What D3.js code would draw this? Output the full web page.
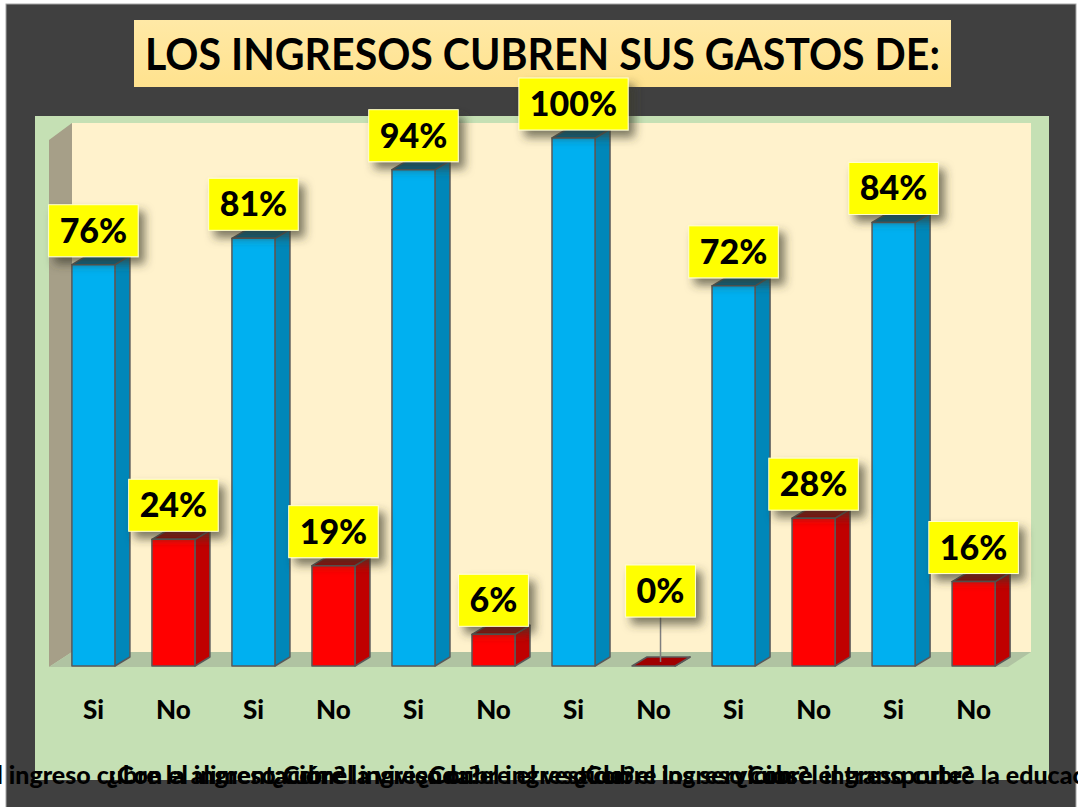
<!DOCTYPE html>
<html>
<head>
<meta charset="utf-8">
<script src="https://cdn.jsdelivr.net/npm/d3@7"></script>
<style>
  body { margin: 0; background: #ffffff; }
  svg { display: block; }
</style>
</head>
<body>
<script>
const width = 1078;
const height = 807;
const title = "LOS INGRESOS CUBREN SUS GASTOS DE:";
const groups = [
  "¿Con el ingreso cubre la alimentación?",
  "¿Con el ingreso cubre la vivienda?",
  "¿Con el ingreso cubre el vestido?",
  "¿Con el ingreso cubre los servicios?",
  "¿Con el ingreso cubre el transporte?",
  "¿Con el ingreso cubre la educación?"
];
const answers = ["Si", "No"];
const siValues = [76, 81, 94, 100, 72, 84];
const noValues = [24, 19, 6, 0, 28, 16];

const colors = {
  Si: { front: "#00B0F0", side: "#0087B9", top: "#00668E" },
  No: { front: "#FF0000", side: "#C00000", top: "#A00000" }
};
const depth = { dx: 15, dy: 9 };

// flatten into one bar per answer, in the order they are drawn
const data = [];
groups.forEach((g, gi) => {
  data.push({ key: `${gi}-Si`, group: gi, answer: "Si", value: siValues[gi] });
  data.push({ key: `${gi}-No`, group: gi, answer: "No", value: noValues[gi] });
});

const svg = d3.select("body").append("svg")
  .attr("width", width)
  .attr("height", height);

const defs = svg.append("defs");
const shadow = defs.append("filter")
  .attr("id", "boxShadow")
  .attr("x", "-30%").attr("y", "-30%")
  .attr("width", "180%").attr("height", "180%");
shadow.append("feDropShadow")
  .attr("dx", 6).attr("dy", 7)
  .attr("stdDeviation", 5)
  .attr("flood-color", "#3a3a2a")
  .attr("flood-opacity", 0.65);

const titleGrad = defs.append("linearGradient")
  .attr("id", "titleGrad")
  .attr("x1", 0).attr("y1", 0).attr("x2", 0).attr("y2", 1);
titleGrad.append("stop").attr("offset", "0%").attr("stop-color", "#FFE9A6");
titleGrad.append("stop").attr("offset", "100%").attr("stop-color", "#FFE28E");

// frame
svg.append("rect")
  .attr("x", 6).attr("y", 4)
  .attr("width", 1070).attr("height", 820)
  .attr("style", "fill: #404040; stroke: #A6A6A6; stroke-width: 1px;");

// title
svg.append("rect")
  .attr("x", 134).attr("y", 20)
  .attr("width", 817).attr("height", 67)
  .attr("style", "fill: url(#titleGrad);");
svg.append("text")
  .text(title)
  .attr("x", 145).attr("y", 70)
  .attr("textLength", 795)
  .attr("lengthAdjust", "spacingAndGlyphs")
  .attr("style", "font-family: Lato, 'Open Sans', sans-serif; font-weight: bold; font-size: 43px; fill: #000;");

// plot area
svg.append("rect")
  .attr("x", 35).attr("y", 116)
  .attr("width", 1014).attr("height", 664)
  .attr("style", "fill: #C5E0B4;");

const x = d3.scaleBand()
  .domain(data.map((d) => d.key))
  .range([53.5, 1013.5])
  .paddingInner(0.4625)
  .paddingOuter(0.23);

const y = d3.scaleLinear()
  .domain([0, 100])
  .range([666, 138]);

const wallLeft = 72;
const wallRight = 1031;
const wallTop = 123;
const floorBack = y(0) - 14;
const floorFront = y(0) + 1;

// back wall, side wall and floor
svg.append("rect")
  .attr("x", wallLeft).attr("y", wallTop)
  .attr("width", wallRight - wallLeft).attr("height", floorBack - wallTop)
  .attr("style", "fill: #FFF2CC;");
svg.append("polygon")
  .attr("points", [[wallLeft - 23, wallTop + 17], [wallLeft, wallTop], [wallLeft, floorBack], [wallLeft - 23, floorFront]].join(" "))
  .attr("style", "fill: #A69F88;");
svg.append("polygon")
  .attr("points", [[wallLeft - 23, floorFront], [wallLeft, floorBack], [wallRight, floorBack], [wallRight - 23, floorFront]].join(" "))
  .attr("style", "fill: #B0C3A2;");

// bars
const bw = x.bandwidth();
const bars = svg.selectAll(".bar")
  .data(data)
  .enter().append("g")
  .attr("class", "bar");

const barStroke = "stroke: #595959; stroke-width: 1.5px; stroke-linejoin: round;";

bars.append("polygon")
  .attr("points", (d) => {
    const x0 = x(d.key) + bw, yt = y(d.value), yb = y(0);
    return [[x0, yt], [x0 + depth.dx, yt - depth.dy], [x0 + depth.dx, yb - depth.dy], [x0, yb]].join(" ");
  })
  .attr("style", (d) => `fill: ${colors[d.answer].side}; ${barStroke}`);

bars.append("polygon")
  .attr("points", (d) => {
    const x0 = x(d.key), yt = y(d.value);
    return [[x0, yt], [x0 + depth.dx, yt - depth.dy], [x0 + bw + depth.dx, yt - depth.dy], [x0 + bw, yt]].join(" ");
  })
  .attr("style", (d) => `fill: ${colors[d.answer].top}; ${barStroke}`);

bars.filter((d) => d.value > 0).append("rect")
  .attr("x", (d) => x(d.key))
  .attr("y", (d) => y(d.value))
  .attr("width", bw)
  .attr("height", (d) => y(0) - y(d.value))
  .attr("style", (d) => `fill: ${colors[d.answer].front}; ${barStroke}`);

// value labels
const labels = svg.selectAll(".valueLabel")
  .data(data)
  .enter().append("g")
  .attr("class", "valueLabel");

labels.filter((d) => d.value === 0).append("line")
  .attr("x1", (d) => x(d.key) + bw / 2 + 7)
  .attr("x2", (d) => x(d.key) + bw / 2 + 7)
  .attr("y1", (d) => y(0) - 49)
  .attr("y2", (d) => y(0) - 4)
  .attr("style", "stroke: #7F7F7F; stroke-width: 1.5px;");

const boxes = labels.append("rect")
  .attr("filter", "url(#boxShadow)")
  .attr("style", "fill: #FFFF00; stroke: #FFFFD0; stroke-width: 1px;");

const labelTexts = labels.append("text")
  .text((d) => `${d.value}%`)
  .attr("x", (d) => x(d.key) + bw / 2 + (d.value === 0 ? 7 : 0))
  .attr("y", (d) => (d.value === 0 ? y(0) - 49 : y(d.value) - 8) - 14)
  .attr("text-anchor", "middle")
  .attr("style", "font-family: Lato, 'Open Sans', sans-serif; font-weight: 900; font-size: 34px; fill: #000;");

labelTexts.each(function (d) {
  d.textWidth = this.getComputedTextLength();
});

boxes
  .attr("x", (d) => x(d.key) + bw / 2 + (d.value === 0 ? 7 : 0) - d.textWidth / 2 - 11)
  .attr("y", (d) => (d.value === 0 ? y(0) - 49 : y(d.value) - 8) - 52)
  .attr("width", (d) => d.textWidth + 22)
  .attr("height", 52);

labelTexts.raise();

// category axis (Si / No)
const xAxis = svg.append("g")
  .attr("transform", `translate(0, ${y(0) + 35})`)
  .call(d3.axisBottom(x).tickSize(0).tickPadding(0).tickFormat((k) => k.split("-")[1]));
xAxis.select(".domain").remove();
xAxis.selectAll("text")
  .attr("dy", "0.71em")
  .attr("style", "font-family: Lato, 'Open Sans', sans-serif; font-weight: 900; font-size: 26px; fill: #000;");

// group labels (overlapping as in the source)
svg.selectAll(".groupLabel")
  .data(groups)
  .enter().append("text")
  .attr("class", "groupLabel")
  .text((g) => g)
  .attr("x", (g, i) => (x(`${i}-Si`) + x(`${i}-No`) + bw) / 2)
  .attr("y", 784)
  .attr("text-anchor", "middle")
  .attr("style", "font-family: Lato, 'Open Sans', sans-serif; font-weight: 900; font-size: 25px; fill: #000;");
</script>
</body>
</html>
